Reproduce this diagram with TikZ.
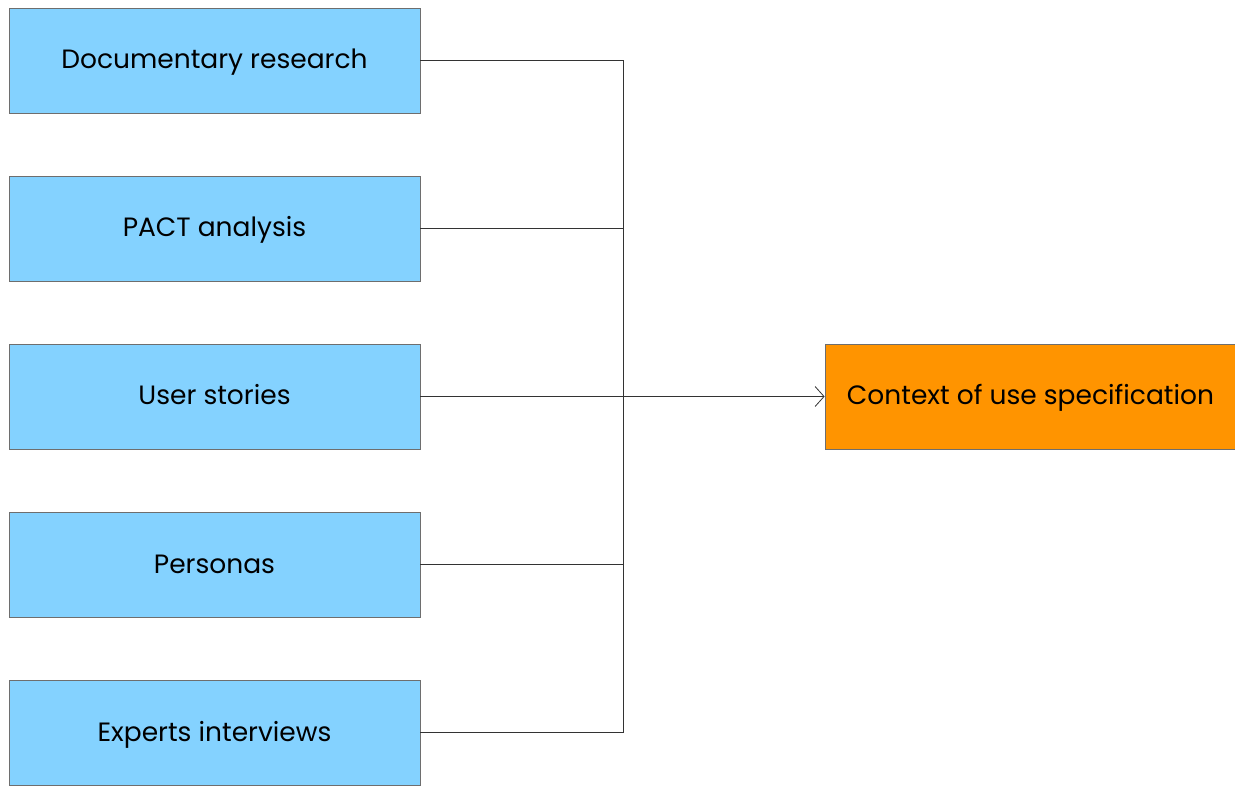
\documentclass[tikz,border=0pt]{standalone}
\usepackage{fontspec}
\setmainfont{Poppins}
\usetikzlibrary{arrows.meta}
\definecolor{srcblue}{HTML}{84D2FF}
\definecolor{specorange}{HTML}{FF9400}
\definecolor{edgegray}{HTML}{6E6E6E}
\tikzset{
  boxbase/.style={draw=edgegray, line width=0.8pt,
    minimum width=411pt, minimum height=105pt, inner sep=0pt,
    text height=22pt, text depth=5pt,
    font=\fontsize{26.5}{30}\selectfont},
  srcbox/.style={boxbase, fill=srcblue},
  specbox/.style={boxbase, fill=specorange},
  link/.style={draw=black!80, line width=0.8pt},
}
\begin{document}
\begin{tikzpicture}[x=1pt,y=-1pt]
  \useasboundingbox (0,0) rectangle (1235,786);
  \begin{scope}
    \clip (0,0) rectangle (1235,786);
    \node[srcbox] (doc) at (214.5,60.5) {Documentary research};
    \node[srcbox] (pact) at (214.5,228.5) {PACT analysis};
    \node[srcbox] (stories) at (214.5,396.5) {User stories};
    \node[srcbox] (personas) at (214.5,564.5) {Personas};
    \node[srcbox] (experts) at (214.5,732.5) {Experts interviews};
    \node[specbox] (ctx) at (1030.5,396.5) {Context of use specification};
  \end{scope}
  \coordinate (bus) at (623,396.5);
  \draw[link] (doc.east) -| (bus);
  \draw[link] (experts.east) -| (bus);
  \draw[link] (pact.east) -- (pact.east -| bus);
  \draw[link] (personas.east) -- (personas.east -| bus);
  \draw[link, -{Straight Barb[length=9pt, width=20pt, line width=0.8pt]}] (stories.east) -- (ctx.west);
\end{tikzpicture}
\end{document}
